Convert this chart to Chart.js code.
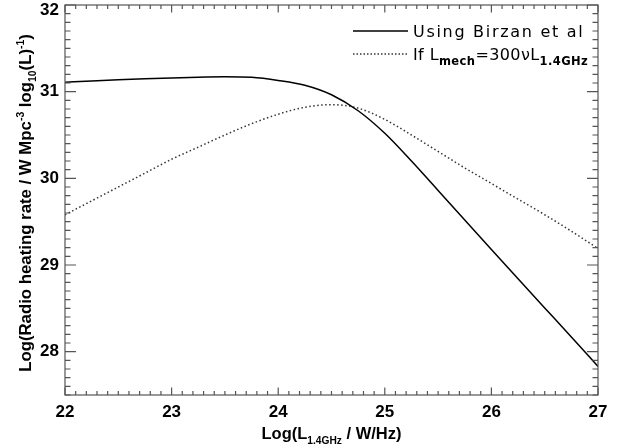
<!DOCTYPE html>
<html>
<head>
<meta charset="utf-8">
<script src="https://cdn.jsdelivr.net/npm/chart.js@4.4.0/dist/chart.umd.min.js"></script>
<style>
  html, body { margin: 0; padding: 0; background: #fff; }
  #wrap { width: 619px; height: 444px; }
</style>
</head>
<body>
<div id="wrap"><canvas id="chart"></canvas></div>
<script>
// log L_1.4GHz (W/Hz)
const lumValues = [22.00, 22.25, 22.50, 22.75, 23.00, 23.25, 23.50, 23.75, 24.00, 24.25, 24.50,
                   24.75, 25.00, 25.25, 25.50, 25.75, 26.00, 26.25, 26.50, 26.75, 27.00];
// Using Birzan et al
const birzanValues = [31.11, 31.124, 31.137, 31.149, 31.159, 31.167, 31.171, 31.165, 31.13, 31.075, 30.965,
                      30.78, 30.52, 30.20, 29.86, 29.52, 29.18, 28.84, 28.505, 28.17, 27.83];
// If L_mech = 300 nu L_1.4GHz
const mechValues = [29.58, 29.74, 29.90, 30.06, 30.22, 30.36, 30.50, 30.63, 30.74, 30.82, 30.85,
                    30.81, 30.68, 30.50, 30.31, 30.12, 29.94, 29.76, 29.58, 29.39, 29.19];

const xTicks = [22, 23, 24, 25, 26, 27];
const yTicks = [28, 29, 30, 31, 32];

const labelFont = "'Liberation Sans', Arial, sans-serif";
const legendFont = "'DejaVu Sans', sans-serif";

function toPoints(ys) {
    return lumValues.map((x, i) => ({ x: x, y: ys[i] }));
}

// draws text with sub/superscript parts
function drawRich(ctx, parts, x, y, align, size, weight, family, spacing) {
    ctx.letterSpacing = spacing || "0px";
    let total = 0;
    const widths = parts.map(p => {
        const s = p.sub || p.sup ? size * p.scale : size;
        ctx.font = `${p.w || weight} ${s}px ${family}`;
        const w = ctx.measureText(p.t).width;
        total += w;
        return w;
    });
    let cx = align === "center" ? x - total / 2 : x;
    ctx.textAlign = "left";
    ctx.textBaseline = "alphabetic";
    parts.forEach((p, i) => {
        const s = p.sub || p.sup ? size * p.scale : size;
        ctx.font = `${p.w || weight} ${s}px ${family}`;
        let dy = 0;
        if (p.sub) dy = size * 0.3;
        if (p.sup) dy = -size * 0.42;
        ctx.fillText(p.t, cx, y + dy);
        cx += widths[i];
    });
    ctx.letterSpacing = "0px";
}

const framePlugin = {
    id: "frame",
    afterDraw(chart) {
        const ctx = chart.ctx;
        const a = chart.chartArea;
        const xs = chart.scales.x;
        const ys = chart.scales.y;
        ctx.save();
        ctx.strokeStyle = "#555";
        ctx.lineWidth = 1.2;
        ctx.strokeRect(a.left, a.top, a.right - a.left, a.bottom - a.top);

        // x ticks, bottom and top
        ctx.beginPath();
        for (let i = 0; i <= 50; i++) {
            const v = xs.min + i * 0.1;
            const px = xs.getPixelForValue(v);
            const len = i % 10 === 0 ? 7.5 : 4;
            ctx.moveTo(px, a.bottom); ctx.lineTo(px, a.bottom - len);
            ctx.moveTo(px, a.top); ctx.lineTo(px, a.top + len);
        }
        // y ticks, left and right
        for (let i = 0; i <= 45; i++) {
            const v = ys.min + i * 0.1;
            const py = ys.getPixelForValue(v);
            const major = Math.abs(v - Math.round(v)) < 0.01;
            const len = major ? 11 : 5.5;
            ctx.moveTo(a.left, py); ctx.lineTo(a.left + len, py);
            ctx.moveTo(a.right, py); ctx.lineTo(a.right - len, py);
        }
        ctx.stroke();

        ctx.fillStyle = "#000";
        // y tick labels (top one kept inside the canvas)
        ctx.font = `bold 17px ${labelFont}`;
        ctx.textAlign = "right";
        ctx.textBaseline = "middle";
        yTicks.forEach(v => {
            const py = Math.max(ys.getPixelForValue(v), 10);
            ctx.fillText(String(v), a.left - 6, py);
        });

        // x title
        drawRich(ctx, [
            { t: "Log(L" },
            { t: "1.4GHz", sub: true, scale: 0.62 },
            { t: " / W/Hz)" }
        ], (a.left + a.right) / 2, 439, "center", 16.5, "bold", labelFont);

        // y title
        ctx.save();
        ctx.translate(31, (a.top + a.bottom) / 2 + 3);
        ctx.rotate(-Math.PI / 2);
        drawRich(ctx, [
            { t: "Log(Radio heating rate / W Mpc" },
            { t: "-3", sup: true, scale: 0.62 },
            { t: " log" },
            { t: "10", sub: true, scale: 0.62 },
            { t: "(L)" },
            { t: "-1", sup: true, scale: 0.62 },
            { t: ")" }
        ], 0, 0, "center", 16.8, "bold", labelFont);
        ctx.restore();

        // legend
        const lx0 = 353, lx1 = 408, tx = 413;
        const rows = [31, 54];
        ctx.strokeStyle = "#000";
        ctx.lineWidth = 1.5;
        ctx.setLineDash([]);
        ctx.beginPath();
        ctx.moveTo(lx0, rows[0]); ctx.lineTo(lx1, rows[0]);
        ctx.stroke();
        ctx.strokeStyle = "#333";
        ctx.setLineDash([1.5, 2]);
        ctx.beginPath();
        ctx.moveTo(lx0, rows[1]); ctx.lineTo(lx1, rows[1]);
        ctx.stroke();
        ctx.setLineDash([]);

        drawRich(ctx, [{ t: "Using Birzan et al" }], tx, rows[0] + 6, "left", 16, "normal", legendFont, "1.7px");
        drawRich(ctx, [
            { t: "If L" },
            { t: "mech", sub: true, scale: 0.72, w: "600" },
            { t: "=300\u03bdL" },
            { t: "1.4GHz", sub: true, scale: 0.72, w: "600" }
        ], tx, rows[1] + 6, "left", 16, "normal", legendFont, "0.4px");
        ctx.restore();
    }
};

const ctx = document.getElementById("chart").getContext("2d");

new Chart(ctx, {
    type: "line",
    data: {
        datasets: [
            {
                label: "Using Birzan et al",
                data: toPoints(birzanValues),
                borderColor: "#000",
                borderWidth: 1.5,
                pointRadius: 0,
                cubicInterpolationMode: "monotone",
                fill: false
            },
            {
                label: "If Lmech=300\u03bdL1.4GHz",
                data: toPoints(mechValues),
                borderColor: "#333",
                borderWidth: 1.5,
                borderDash: [1.5, 2.5],
                pointRadius: 0,
                cubicInterpolationMode: "monotone",
                fill: false
            }
        ]
    },
    options: {
        responsive: true,
        maintainAspectRatio: false,
        animation: false,
        layout: { padding: { left: 0, right: 21, top: 5, bottom: 0 } },
        plugins: {
            legend: { display: false },
            tooltip: { enabled: false }
        },
        scales: {
            x: {
                type: "linear",
                min: 22,
                max: 27,
                border: { display: false },
                grid: { display: false, drawTicks: false },
                afterBuildTicks: s => { s.ticks = xTicks.map(v => ({ value: v })); },
                ticks: {
                    color: "#000",
                    padding: 7,
                    maxRotation: 0,
                    font: { family: labelFont, size: 17, weight: "bold" }
                },
                afterFit: s => { s.height = 49; s.paddingLeft = 0; s.paddingRight = 0; }
            },
            y: {
                min: 27.5,
                max: 32,
                border: { display: false },
                grid: { display: false, drawTicks: false },
                afterBuildTicks: s => { s.ticks = yTicks.map(v => ({ value: v })); },
                ticks: { display: false },
                afterFit: s => { s.width = 65; s.paddingTop = 0; s.paddingBottom = 0; }
            }
        }
    },
    plugins: [framePlugin]
});
</script>
</body>
</html>
